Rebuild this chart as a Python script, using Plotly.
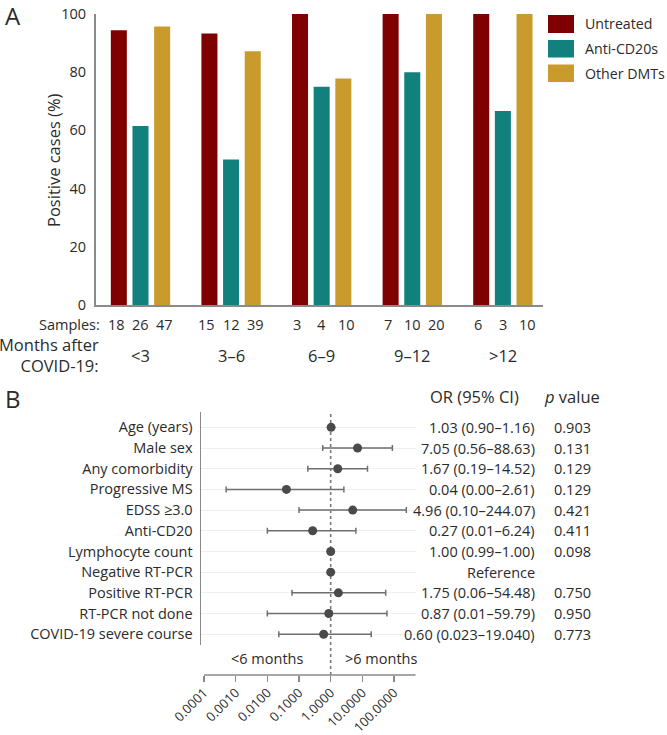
import plotly.graph_objects as go

W, H = 667, 735

# ---------------- Panel A data ----------------
groups = ["<3", "3–6", "6–9", "9–12", ">12"]
series_names = ["Untreated", "Anti-CD20s", "Other DMTs"]
untreated = [94.4, 93.3, 100, 100, 100]
anti_cd20 = [61.5, 50.0, 75.0, 80.0, 66.7]
other_dmts = [95.7, 87.2, 77.8, 100, 100]
samples_untreated = [18, 15, 3, 7, 6]
samples_anti = [26, 12, 4, 10, 3]
samples_other = [47, 39, 10, 20, 10]
y_ticks_a = [0, 20, 40, 60, 80, 100]

# ---------------- Panel B data ----------------
factors = ["Age (years)", "Male sex", "Any comorbidity", "Progressive MS", "EDSS ≥3.0",
           "Anti-CD20", "Lymphocyte count", "Negative RT-PCR", "Positive RT-PCR",
           "RT-PCR not done", "COVID-19 severe course"]
or_vals = [1.03, 7.05, 1.67, 0.04, 4.96, 0.27, 1.00, 1.00, 1.75, 0.87, 0.60]
ci_low = [0.90, 0.56, 0.19, 0.0005, 0.10, 0.01, 0.99, 1.00, 0.06, 0.01, 0.023]
ci_high = [1.16, 88.63, 14.52, 2.61, 244.07, 6.24, 1.00, 1.00, 54.48, 59.79, 19.04]
or_text = ["1.03 (0.90–1.16)", "7.05 (0.56–88.63)", "1.67 (0.19–14.52)", "0.04 (0.00–2.61)",
           "4.96 (0.10–244.07)", "0.27 (0.01–6.24)", "1.00 (0.99–1.00)", "Reference",
           "1.75 (0.06–54.48)", "0.87 (0.01–59.79)", "0.60 (0.023–19.040)"]
p_text = ["0.903", "0.131", "0.129", "0.129", "0.421", "0.411", "0.098", "",
          "0.750", "0.950", "0.773"]
x_tickvals_b = [0.0001, 0.001, 0.01, 0.1, 1, 10, 100]
x_ticktext_b = ["0.0001", "0.0010", "0.0100", "0.1000", "1.0000", "10.0000", "100.0000"]

colors = ["#7f0000", "#12817e", "#c89b2c"]
FONT = "Open Sans"
TXT = "#2b2b2b"
AX = "#8a8a8a"
S_SMALL = 14.5
S_BIG = 16.5
X2_RANGE = [-4.095, 2.684]


def px(x):
    return x / W


def py(y):
    return 1 - y / H


fig = go.Figure()

gx = list(range(len(groups)))
for name, vals, col in zip(series_names, [untreated, anti_cd20, other_dmts], colors):
    fig.add_trace(go.Bar(x=gx, y=vals, name=name, marker=dict(color=col, line=dict(width=0)),
                         xaxis="x", yaxis="y", showlegend=False))

# forest plot
err_plus = [h - o for h, o in zip(ci_high, or_vals)]
err_minus = [o - l for o, l in zip(or_vals, ci_low)]
rows = list(range(len(factors)))
fig.add_trace(go.Scatter(
    x=or_vals, y=rows, mode="markers", xaxis="x2", yaxis="y2", showlegend=False,
    marker=dict(color="#4a4a4a", size=9),
    error_x=dict(type="data", symmetric=False, array=err_plus, arrayminus=err_minus,
                 color="#6e6e6e", thickness=1.5, width=3),
))

fig.update_layout(
    width=W, height=H, margin=dict(l=0, r=0, t=0, b=0, pad=0, autoexpand=False),
    paper_bgcolor="white", plot_bgcolor="white", showlegend=False,
    font=dict(family=FONT, size=S_SMALL, color=TXT),
    barmode="group", bargap=0.283, bargroupgap=0.26,
    xaxis=dict(domain=[px(96), px(543)], range=[-0.491, 4.443], showticklabels=False,
               ticks="", showgrid=False, zeroline=False, showline=True, linecolor=AX,
               linewidth=2, anchor="y", automargin=False, fixedrange=True),
    yaxis=dict(domain=[py(305), py(14)], range=[0, 100], tickvals=y_ticks_a,
               showgrid=False, zeroline=False, showline=True, linecolor=AX, linewidth=2,
               ticks="", ticklabelstandoff=5, tickfont=dict(size=S_SMALL),
               ticklabeloverflow="allow", anchor="x", automargin=False, fixedrange=True),
    xaxis2=dict(type="log", domain=[px(201), px(415.7)], range=X2_RANGE,
                tickvals=x_tickvals_b, ticktext=x_ticktext_b, tickangle=-45,
                tickfont=dict(size=13), ticks="outside", ticklen=6, tickcolor=AX,
                tickwidth=1.5, showline=False, showgrid=False, zeroline=False,
                ticklabelstandoff=-2,
                ticklabeloverflow="allow", anchor="free", position=py(675), automargin=False,
                fixedrange=True),
    yaxis2=dict(domain=[py(645), py(412)], range=[10.52, -0.74], tickvals=rows,
                ticktext=factors, showline=True, linecolor=AX, linewidth=1.5,
                showgrid=True, gridcolor="#efefef", gridwidth=1, zeroline=False,
                ticks="", ticklabelstandoff=4, tickfont=dict(size=S_SMALL), anchor="x2",
                automargin=False, fixedrange=True),
)

shapes = []
annotations = []

# x axis line of the forest plot (starts at the first tick)
shapes.append(dict(type="line", xref="x2", yref="paper", x0=x_tickvals_b[0], x1=10 ** X2_RANGE[1],
                   y0=py(675), y1=py(675), line=dict(color=AX, width=1.5)))

# reference line at OR = 1
shapes.append(dict(type="line", xref="x2", yref="paper", x0=1, x1=1, y0=py(675), y1=py(412),
                   line=dict(color="#777777", width=1.6, dash="dot"), layer="below"))

# y-axis title of panel A
annotations.append(dict(text="Positive cases (%)", xref="paper", yref="paper", x=px(53), y=py(160),
                        xanchor="center", yanchor="middle", textangle=-90, showarrow=False,
                        font=dict(size=S_BIG, color=TXT)))

# custom legend for panel A
leg_y = [(15, 33), (40, 57.5), (64.5, 82)]
for name, col, (y0, y1) in zip(series_names, colors, leg_y):
    shapes.append(dict(type="rect", xref="paper", yref="paper", x0=px(548), x1=px(574),
                       y0=py(y1), y1=py(y0), fillcolor=col, line=dict(width=0)))
    annotations.append(dict(text=name, xref="paper", yref="paper", x=px(583), y=py((y0 + y1) / 2),
                            xanchor="left", yanchor="middle", showarrow=False,
                            font=dict(size=14.2, color=TXT)))

# sample counts and group labels
offs = [-0.27, 0.0, 0.27]
for i in gx:
    for o, arr in zip(offs, [samples_untreated, samples_anti, samples_other]):
        annotations.append(dict(text=str(arr[i]), xref="x", yref="paper", x=i + o, y=py(324.5),
                                xanchor="center", yanchor="middle", showarrow=False,
                                font=dict(size=S_SMALL, color=TXT)))
    annotations.append(dict(text=groups[i], xref="x", yref="paper", x=i, y=py(355),
                            xanchor="center", yanchor="middle", showarrow=False,
                            font=dict(size=S_BIG, color=TXT)))
annotations.append(dict(text="Samples:", xref="paper", yref="paper", x=px(102), y=py(324.5),
                        xanchor="right", yanchor="middle", showarrow=False,
                        font=dict(size=S_SMALL, color=TXT)))
annotations.append(dict(text="Months after<br>COVID-19:", xref="paper", yref="paper", x=px(101),
                        y=py(355), xanchor="right", yanchor="middle", align="right",
                        showarrow=False, font=dict(size=S_BIG, color=TXT)))

# panel letters
annotations.append(dict(text="A", xref="paper", yref="paper", x=px(3), y=py(15), xanchor="left",
                        yanchor="middle", showarrow=False, font=dict(size=24, color=TXT)))
annotations.append(dict(text="B", xref="paper", yref="paper", x=px(3), y=py(398), xanchor="left",
                        yanchor="middle", showarrow=False, font=dict(size=24, color=TXT)))

# forest table
annotations.append(dict(text="OR (95% CI)", xref="paper", yref="paper", x=px(521), y=py(396),
                        xanchor="right", yanchor="middle", showarrow=False,
                        font=dict(size=S_BIG, color=TXT)))
annotations.append(dict(text="<i>p</i> value", xref="paper", yref="paper", x=px(542), y=py(396),
                        xanchor="left", yanchor="middle", showarrow=False,
                        font=dict(size=S_BIG, color=TXT)))
for r in rows:
    annotations.append(dict(text=or_text[r], xref="paper", yref="y2", x=px(537), y=r,
                            xanchor="right", yanchor="middle", showarrow=False,
                            font=dict(size=S_SMALL, color=TXT)))
    if p_text[r]:
        annotations.append(dict(text=p_text[r], xref="paper", yref="y2", x=px(551.5), y=r,
                                xanchor="left", yanchor="middle", showarrow=False,
                                font=dict(size=S_SMALL, color=TXT)))

annotations.append(dict(text="<6 months", xref="paper", yref="paper", x=px(266.7), y=py(658),
                        xanchor="center", yanchor="middle", showarrow=False,
                        font=dict(size=S_SMALL, color=TXT)))
annotations.append(dict(text=">6 months", xref="paper", yref="paper", x=px(381), y=py(658),
                        xanchor="center", yanchor="middle", showarrow=False,
                        font=dict(size=S_SMALL, color=TXT)))

fig.update_layout(shapes=shapes, annotations=annotations)
fig.write_html("out.html", config={"displayModeBar": False, "staticPlot": True},
               post_script="document.body.style.margin='0px';document.body.style.padding='0px';")
